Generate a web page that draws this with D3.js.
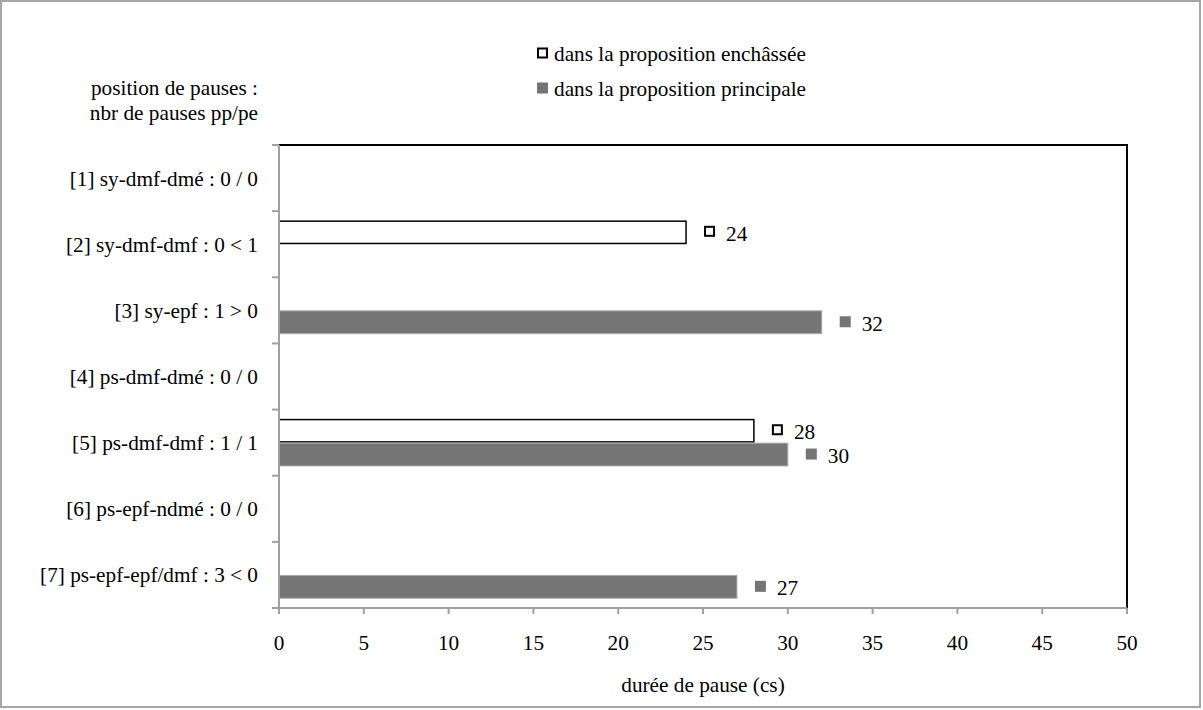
<!DOCTYPE html>
<html>
<head>
<meta charset="utf-8">
<script src="https://cdn.jsdelivr.net/npm/d3@7"></script>
<style>
  html, body { margin: 0; padding: 0; background: #fff; }
  svg { display: block; }
</style>
</head>
<body>
<svg id="chart" width="1203" height="710"></svg>
<script>
// ---- data ----
const categories = [
  "[1] sy-dmf-dmé : 0 / 0",
  "[2] sy-dmf-dmf : 0 < 1",
  "[3] sy-epf : 1 > 0",
  "[4] ps-dmf-dmé : 0 / 0",
  "[5] ps-dmf-dmf : 1 / 1",
  "[6] ps-epf-ndmé : 0 / 0",
  "[7] ps-epf-epf/dmf : 3 < 0"
];
const seriesNames = ["dans la proposition enchâssée", "dans la proposition principale"];
const enchassee = [null, 24, null, null, 28, null, null];
const principale = [null, null, 32, null, 30, null, 27];
const xTicks = [0, 5, 10, 15, 20, 25, 30, 35, 40, 45, 50];
const yTitleLines = ["position de pauses :", "nbr de pauses pp/pe"];
const xTitle = "durée de pause (cs)";

// ---- layout ----
const svg = d3.select("#chart");
const FAMILY = "'Liberation Serif', Tinos, 'Times New Roman', 'Nimbus Roman', 'Noto Serif', 'DejaVu Serif', serif";
svg.attr("font-family", FAMILY);
const plot = { left: 279, right: 1127, top: 145, bottom: 608 };
const GRAY = "#757575";
const AXIS = "#a0a0a0";

// calibrate font size so text width matches the reference (218px for the longest label)
const probe = svg.append("text").attr("font-size", 21).text(categories[6]);
const w21 = probe.node().getComputedTextLength();
probe.remove();
const FONT = Math.max(14, Math.min(24, 21 * 218 / (w21 || 218)));

// outer frame
svg.append("rect")
  .attr("x", 1).attr("y", 1).attr("width", 1199).attr("height", 706)
  .attr("fill", "#fff").attr("stroke", "#a6a6a6").attr("stroke-width", 2);

const x = d3.scaleLinear().domain([0, 50]).range([plot.left, plot.right]);
const y = d3.scaleBand().domain(categories).range([plot.top, plot.bottom]).paddingInner(0).paddingOuter(0);
const sub = d3.scaleBand().domain(seriesNames).range([0, y.bandwidth()]).paddingOuter(0.39).paddingInner(0);

// plot area border (top & right black)
svg.append("path")
  .attr("d", `M${plot.left},${plot.top}H${plot.right}V${plot.bottom}`)
  .attr("fill", "none").attr("stroke", "#000").attr("stroke-width", 2);

// bars
const rows = categories.map((c, i) => ({ cat: c, vals: [enchassee[i], principale[i]] }));
const g = svg.append("g");
rows.forEach(r => {
  r.vals.forEach((v, si) => {
    if (v == null) return;
    const y0 = y(r.cat) + sub(seriesNames[si]);
    const h = sub.bandwidth();
    if (si === 0) {
      g.append("rect")
        .attr("x", x(0)).attr("y", y0 + 0.75)
        .attr("width", x(v) - x(0)).attr("height", h - 1.5)
        .attr("fill", "#fff").attr("stroke", "#000").attr("stroke-width", 1.5);
    } else {
      g.append("rect")
        .attr("x", x(0)).attr("y", y0 + 0.5)
        .attr("width", x(v) - x(0)).attr("height", h - 1)
        .attr("fill", GRAY).attr("stroke", "#a8a8a8").attr("stroke-width", 1);
    }
    // value label with legend key
    const cy = y0 + h / 2;
    const mx = x(v) + 18;
    if (si === 0) {
      g.append("rect").attr("x", mx + 1).attr("y", cy - 5.5).attr("width", 9).attr("height", 9)
        .attr("fill", "#fff").attr("stroke", "#000").attr("stroke-width", 2);
    } else {
      g.append("rect").attr("x", mx).attr("y", cy - 6).attr("width", 11).attr("height", 11)
        .attr("fill", GRAY);
    }
    g.append("text").attr("x", mx + 22).attr("y", cy).attr("dy", "0.4em")
      .attr("font-size", FONT).attr("fill", "#000").text(v);
  });
});

// y axis
const yAxisG = svg.append("g");
yAxisG.append("line")
  .attr("x1", plot.left).attr("x2", plot.left).attr("y1", plot.top).attr("y2", plot.bottom + 6)
  .attr("stroke", AXIS).attr("stroke-width", 2);
const bounds = categories.map(c => y(c)).concat([plot.bottom]);
yAxisG.selectAll("line.tick").data(bounds).enter().append("line")
  .attr("class", "tick")
  .attr("x1", plot.left - 7).attr("x2", plot.left).attr("y1", d => d).attr("y2", d => d)
  .attr("stroke", AXIS).attr("stroke-width", 2);
yAxisG.selectAll("text").data(categories).enter().append("text")
  .attr("x", 258).attr("y", d => y(d) + y.bandwidth() / 2).attr("dy", "0.35em")
  .attr("text-anchor", "end").attr("font-size", FONT).attr("fill", "#000").text(d => d);

// x axis
const xAxisG = svg.append("g");
xAxisG.append("line")
  .attr("x1", plot.left - 7).attr("x2", plot.right).attr("y1", plot.bottom).attr("y2", plot.bottom)
  .attr("stroke", AXIS).attr("stroke-width", 2);
xAxisG.selectAll("line.tick").data(xTicks).enter().append("line")
  .attr("class", "tick")
  .attr("x1", d => x(d)).attr("x2", d => x(d)).attr("y1", plot.bottom).attr("y2", plot.bottom + 6)
  .attr("stroke", AXIS).attr("stroke-width", 2);
xAxisG.selectAll("text").data(xTicks).enter().append("text")
  .attr("x", d => x(d)).attr("y", 650)
  .attr("text-anchor", "middle").attr("font-size", FONT).attr("fill", "#000").text(d => d);

// axis titles
svg.append("text").attr("x", (plot.left + plot.right) / 2).attr("y", 692)
  .attr("text-anchor", "middle").attr("font-size", FONT).attr("fill", "#000").text(xTitle);
yTitleLines.forEach((t, i) => {
  svg.append("text").attr("x", 258).attr("y", 95 + i * 25)
    .attr("text-anchor", "end").attr("font-size", FONT).attr("fill", "#000").text(t);
});

// legend
const leg = svg.append("g");
seriesNames.forEach((n, i) => {
  const ly = 53 + i * 35;
  if (i === 0) {
    leg.append("rect").attr("x", 538).attr("y", ly - 4.5).attr("width", 9).attr("height", 9)
      .attr("fill", "#fff").attr("stroke", "#000").attr("stroke-width", 2);
  } else {
    leg.append("rect").attr("x", 537).attr("y", ly - 5.5).attr("width", 11).attr("height", 11)
      .attr("fill", GRAY);
  }
  leg.append("text").attr("x", 554).attr("y", ly).attr("dy", "0.36em")
    .attr("font-size", FONT).attr("fill", "#000").text(n);
});
</script>
</body>
</html>
